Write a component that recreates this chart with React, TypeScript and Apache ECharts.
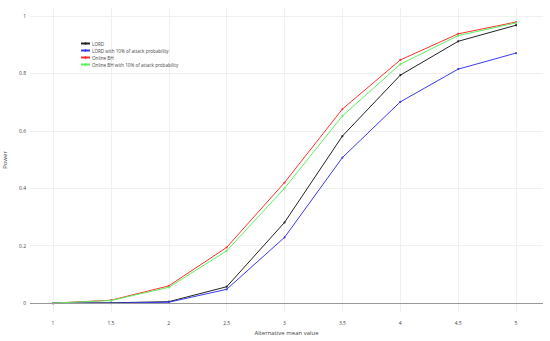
import React, { useEffect, useRef } from "react";
import * as echarts from "echarts";

const xValues = [1, 1.5, 2, 2.5, 3, 3.5, 4, 4.5, 5];
const lord = [0, 0.001, 0.005, 0.057, 0.281, 0.582, 0.794, 0.912, 0.968];
const lordAttack = [0, 0, 0.003, 0.048, 0.229, 0.507, 0.701, 0.815, 0.871];
const onlineBH = [0, 0.01, 0.06, 0.194, 0.42, 0.676, 0.847, 0.938, 0.979];
const onlineBHAttack = [0, 0.009, 0.055, 0.182, 0.4, 0.652, 0.832, 0.932, 0.976];
const xTicks = [1, 1.5, 2, 2.5, 3, 3.5, 4, 4.5, 5];
const yTicks = [0, 0.2, 0.4, 0.6, 0.8, 1];
const seriesNames = [
  "LORD",
  "LORD with 10% of attack probability",
  "Online BH",
  "Online BH with 10% of attack probability",
];
const seriesColors = ["#222222", "#3a3af0", "#ff3030", "#5cf05c"];

export default function App() {
  const ref = useRef<HTMLDivElement>(null);
  useEffect(() => {
    if (!ref.current) return;
    const chart = echarts.init(ref.current, null, { renderer: "svg" });
    const allData = [lord, lordAttack, onlineBH, onlineBHAttack];
    const font = "Open Sans";
    chart.setOption({
      animation: false,
      backgroundColor: "#ffffff",
      grid: { left: 30, right: 7, top: 8, bottom: 29, containLabel: false, outerBoundsMode: "none" },
      legend: {
        orient: "vertical",
        left: 75,
        top: 36,
        itemWidth: 9,
        itemHeight: 3,
        itemGap: 2,
        textStyle: { fontSize: 4.6, color: "#444", fontFamily: font, padding: [0, 0, 0, -3] },
        data: seriesNames,
      },
      xAxis: {
        type: "value",
        min: 0.801,
        max: 5.233,
        name: "Alternative mean value",
        nameLocation: "middle",
        nameGap: 16,
        nameTextStyle: { fontSize: 6, color: "#444", fontFamily: font },
        axisLine: { show: false },
        axisTick: { show: false, customValues: xTicks },
        axisLabel: {
          customValues: xTicks,
          fontSize: 5,
          color: "#444",
          fontFamily: font,
          margin: 8,
          formatter: (v: number) => String(v),
        },
        splitLine: { show: true, lineStyle: { color: "#f0f0f0", width: 1 } },
      },
      yAxis: {
        type: "value",
        min: -0.031,
        max: 1.028,
        name: "Power",
        nameLocation: "middle",
        nameGap: 15,
        nameTextStyle: { fontSize: 6, color: "#444", fontFamily: font },
        axisLine: { show: false },
        axisTick: { show: false, customValues: yTicks },
        axisLabel: {
          customValues: yTicks,
          fontSize: 5,
          color: "#444",
          fontFamily: font,
          margin: 4,
          formatter: (v: number) => String(v),
        },
        splitLine: { show: true, lineStyle: { color: "#f0f0f0", width: 1 } },
      },
      series: [
        {
          type: "line",
          name: "__zero",
          data: [],
          silent: true,
          markLine: {
            silent: true,
            symbol: ["none", "none"],
            label: { show: false },
            lineStyle: { color: "#999999", width: 1, type: "solid" },
            data: [{ yAxis: 0 }],
          },
        },
        ...seriesNames.map((name, i) => ({
          type: "line",
          name,
          data: xValues.map((x, j) => [x, allData[i][j]]),
          color: seriesColors[i],
          lineStyle: { color: seriesColors[i], width: 1 },
          itemStyle: { color: seriesColors[i] },
          symbol: "circle",
          symbolSize: 2,
          showSymbol: true,
          z: 3 + (i === 2 ? 0 : i === 3 ? 1 : i),
        })),
      ],
    });
    return () => chart.dispose();
  }, []);
  return <div ref={ref} style={{ width: 550, height: 341, position: "absolute", left: 0, top: 0 }} />;
}
